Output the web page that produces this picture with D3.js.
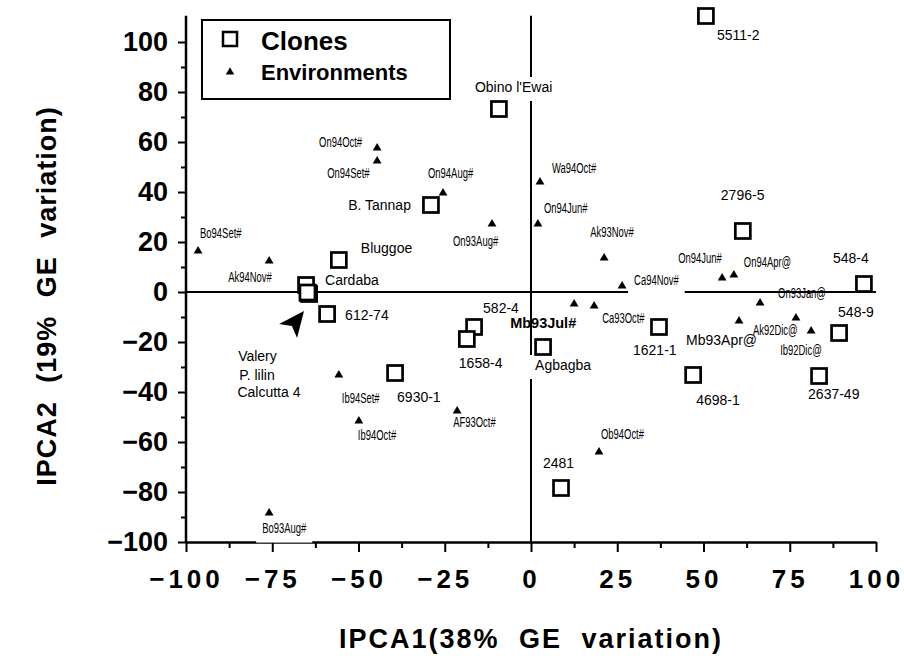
<!DOCTYPE html>
<html>
<head>
<meta charset="utf-8">
<script src="https://cdn.jsdelivr.net/npm/d3@7"></script>
<style>
  body { margin: 0; background: #fff; }
  svg { font-family: "Liberation Sans", Arial, sans-serif; }
</style>
</head>
<body>
<div class="biplot"></div>
<script>
// clones (squares)
const cloneNames = ["5511-2", "Obino l'Ewai", "B. Tannap", "Bluggoe", "Cardaba", "Valery", "P. lilin", "Calcutta 4",
  "612-74", "6930-1", "582-4", "1658-4", "Agbagba", "1621-1", "2796-5", "548-4", "548-9", "4698-1", "2637-49", "2481"];
const cloneX = [50.7, -9.3, -29.0, -55.7, -65.2, -64.6, -64.3, -64.8,
  -59.1, -39.4, -16.5, -18.6, 3.5, 37.1, 61.4, 96.5, 89.3, 47.0, 83.5, 8.7];
const cloneY = [110.4, 73.2, 34.8, 12.8, 2.8, -0.4, -0.8, -0.2,
  -8.8, -32.4, -14.0, -18.8, -22.0, -14.0, 24.4, 3.2, -16.4, -33.2, -33.6, -78.4];

// environments (triangles)
const envNames = ["On94Oct#", "On94Set#", "On94Aug#", "Wa94Oct#", "On93Aug#", "On94Jun#", "Ak93Nov#", "Ca94Nov#",
  "Mb93Jul#", "Ca93Oct#", "On94Jun#", "On94Apr@", "On93Jan@", "Mb93Apr@", "Ak92Dic@", "Ib92Dic@",
  "Bo94Set#", "Ak94Nov#", "Ib94Set#", "Ib94Oct#", "AF93Oct#", "Ob94Oct#", "Bo93Aug#"];
const envX = [-44.6, -44.6, -25.5, 2.6, -11.3, 2.0, 21.2, 26.4,
  12.5, 18.3, 55.4, 58.8, 66.4, 60.3, 76.8, 81.2,
  -96.5, -75.9, -55.7, -49.9, -21.4, 19.7, -75.9];
const envY = [57.6, 52.4, 39.6, 44.0, 27.2, 27.2, 13.6, 2.4,
  -4.8, -5.6, 5.6, 6.8, -4.4, -11.6, -10.4, -15.6,
  16.4, 12.4, -33.2, -51.6, -47.6, -64.0, -88.4];

const xMajor = [-100, -75, -50, -25, 0, 25, 50, 75, 100];
const yMajor = [-100, -80, -60, -40, -20, 0, 20, 40, 60, 80, 100];

// arrow pointing at the Valery / P. lilin / Calcutta 4 group
const arrowX = [-65.8, -73.0, -69.3, -67.8];
const arrowY = [-7.6, -12.8, -13.6, -18.4];

// label placement (pixel offsets from the point)
const cloneLabelPos = [[11, 24, "start"], [-24, -17, "start"], [-20, 5, "end"], [22, -7, "start"], [19, 0, "start"],
  [-70, 68, "start"], [-70, 86, "start"], [-70, 104, "start"],
  [18, 6, "start"], [2, 29, "start"], [9, -14, "start"], [-8, 29, "start"], [-8, 23, "start"], [-26, 28, "start"],
  [-22, -31, "start"], [-31, -21, "start"], [-1, -16, "start"], [3, 30, "start"], [-11, 23, "start"], [-18, -20, "start"]];
const envLabelPos = [[-15, -1, "end"], [-50, 17, "start"], [-15, -15, "start"], [12, -9, "start"], [-39, 22, "start"],
  [6, -11, "start"], [-14, -21, "start"], [12, -1, "start"], [-64, 24, "start"], [8, 17, "start"], [-44, -15, "start"],
  [10, -8, "start"], [18, -5, "start"], [-53, 24, "start"], [-43, 17, "start"], [-31, 24, "start"],
  [2, -13, "start"], [-41, 21, "start"], [3, 28, "start"], [-1, 19, "start"], [-4, 16, "start"], [2, -13, "start"], [-7, 20, "start"]];
const masked = ["Obino l'Ewai", "Agbagba", "Ca94Nov#", "Bo93Aug#"];

const width = 904;
const height = 656;

const x = d3.scaleLinear().domain([-100, 100]).range([186, 876]);
const y = d3.scaleLinear().domain([-100, 100]).range([542, 42]);

const svg = d3.select('.biplot')
  .append('svg')
  .attr('width', width)
  .attr('height', height);

svg.append('rect').attr('width', width).attr('height', height).attr('fill', '#fff');

// zero lines
svg.append('line')
  .attr('x1', x(-100)).attr('x2', x(100))
  .attr('y1', y(0)).attr('y2', y(0))
  .attr('stroke', '#000').attr('stroke-width', 2);
svg.append('line')
  .attr('x1', x(0)).attr('x2', x(0))
  .attr('y1', y(-100)).attr('y2', y(110.5))
  .attr('stroke', '#000').attr('stroke-width', 2);

// x axis
const xMinor = d3.range(-100, 100.1, 12.5).filter(v => !xMajor.includes(v));
const gxMinor = svg.append('g')
  .attr('transform', `translate(0,${y(-100)})`)
  .call(d3.axisBottom(x).tickValues(xMinor).tickSize(6).tickFormat(''));
gxMinor.select('.domain').remove();
gxMinor.selectAll('line').attr('stroke-width', 2);

const gx = svg.append('g')
  .attr('transform', `translate(0,${y(-100)})`)
  .call(d3.axisBottom(x).tickValues(xMajor).tickSize(10).tickPadding(18).tickSizeOuter(0));
gx.select('.domain').attr('stroke-width', 2.5);
gx.selectAll('line').attr('stroke-width', 2);
gx.selectAll('text')
  .attr('font-size', 26)
  .attr('font-weight', 'bold')
  .attr('letter-spacing', 4)
  .attr('fill', '#000');

// y axis
const yMinor = d3.range(-90, 100, 20);
const gyMinor = svg.append('g')
  .attr('transform', `translate(${x(-100)},0)`)
  .call(d3.axisLeft(y).tickValues(yMinor).tickSize(5).tickFormat(''));
gyMinor.select('.domain').remove();
gyMinor.selectAll('line').attr('stroke-width', 2);

const gy = svg.append('g')
  .attr('transform', `translate(${x(-100)},0)`)
  .call(d3.axisLeft(y).tickValues(yMajor).tickSize(8).tickPadding(10).tickSizeOuter(0));
gy.select('.domain').remove();
gy.selectAll('line').attr('stroke-width', 2);
gy.selectAll('text')
  .attr('font-size', 27)
  .attr('font-weight', 'bold')
  .attr('fill', '#000');
svg.append('line')
  .attr('x1', x(-100)).attr('x2', x(-100))
  .attr('y1', y(-100)).attr('y2', y(110.5))
  .attr('stroke', '#000').attr('stroke-width', 2.5);

// axis titles
svg.append('text')
  .attr('x', (x(-100) + x(100)) / 2)
  .attr('y', 648)
  .attr('text-anchor', 'middle')
  .attr('font-size', 27)
  .attr('font-weight', 'bold')
  .attr('letter-spacing', 2)
  .attr('word-spacing', 10)
  .text('IPCA1(38% GE variation)');
svg.append('text')
  .attr('transform', `translate(56,${(y(-100) + y(100)) / 2 + 4}) rotate(-90)`)
  .attr('text-anchor', 'middle')
  .attr('font-size', 27)
  .attr('font-weight', 'bold')
  .attr('letter-spacing', 1)
  .attr('word-spacing', 10)
  .text('IPCA2 (19% GE variation)');

// labels
const clones = cloneNames.map((n, i) => ({name: n, x: cloneX[i], y: cloneY[i], pos: cloneLabelPos[i]}));
const envs = envNames.map((n, i) => ({name: n, x: envX[i], y: envY[i], pos: envLabelPos[i]}));

const maskLayer = svg.append('g');
const labelLayer = svg.append('g');

labelLayer.selectAll('.cloneLabel')
  .data(clones)
  .enter()
  .append('text')
  .attr('class', 'cloneLabel')
  .attr('x', d => x(d.x) + d.pos[0])
  .attr('y', d => y(d.y) + d.pos[1])
  .attr('text-anchor', d => d.pos[2])
  .attr('font-size', 14)
  .text(d => d.name);

labelLayer.selectAll('.envLabel')
  .data(envs)
  .enter()
  .append('text')
  .attr('class', 'envLabel')
  .attr('transform', d => `translate(${x(d.x) + d.pos[0]},${y(d.y) + d.pos[1]})`)
  .attr('text-anchor', d => d.pos[2])
  .each(function(d) {
    const t = d3.select(this);
    if (d.name == 'Mb93Jul#') {
      t.attr('font-size', 14.5).attr('font-weight', 'bold');
    } else if (d.name == 'Mb93Apr@') {
      t.attr('font-size', 14);
    } else {
      t.attr('font-size', 15).attr('transform', t.attr('transform') + ' scale(0.63,1)');
    }
  })
  .text(d => d.name);

// white boxes behind some labels cut the lines, like in the original
labelLayer.selectAll('text')
  .filter(d => masked.includes(d.name))
  .each(function() {
    const b = this.getBoundingClientRect();
    maskLayer.append('rect')
      .attr('x', b.x - 6).attr('y', b.y - 2)
      .attr('width', b.width + 12).attr('height', b.height + 8)
      .attr('fill', '#fff');
  });

// markers
svg.selectAll('.env')
  .data(envs)
  .enter()
  .append('path')
  .attr('class', 'env')
  .attr('d', d3.symbol(d3.symbolTriangle, 34))
  .attr('transform', d => `translate(${x(d.x)},${y(d.y)})`)
  .attr('fill', '#000');

svg.selectAll('.clone')
  .data(clones)
  .enter()
  .append('rect')
  .attr('class', 'clone')
  .attr('x', d => x(d.x) - 7.5)
  .attr('y', d => y(d.y) - 7.5)
  .attr('width', 15)
  .attr('height', 15)
  .attr('fill', '#fff')
  .attr('stroke', '#000')
  .attr('stroke-width', 2.7);

svg.append('path')
  .attr('d', d3.line()(arrowX.map((v, i) => [x(v), y(arrowY[i])])) + 'Z')
  .attr('fill', '#000');

// legend
const legend = svg.append('g');
legend.append('rect')
  .attr('x', 202).attr('y', 20)
  .attr('width', 248).attr('height', 79)
  .attr('fill', '#fff')
  .attr('stroke', '#000')
  .attr('stroke-width', 2);
legend.append('rect')
  .attr('x', 223).attr('y', 32)
  .attr('width', 14).attr('height', 14)
  .attr('fill', '#fff')
  .attr('stroke', '#000')
  .attr('stroke-width', 2.5);
legend.append('text')
  .attr('x', 261).attr('y', 50)
  .attr('font-size', 26)
  .attr('font-weight', 'bold')
  .text('Clones');
legend.append('path')
  .attr('d', d3.symbol(d3.symbolTriangle, 30))
  .attr('transform', 'translate(230,72)');
legend.append('text')
  .attr('x', 261).attr('y', 80)
  .attr('font-size', 22)
  .attr('font-weight', 'bold')
  .text('Environments');
</script>
</body>
</html>
